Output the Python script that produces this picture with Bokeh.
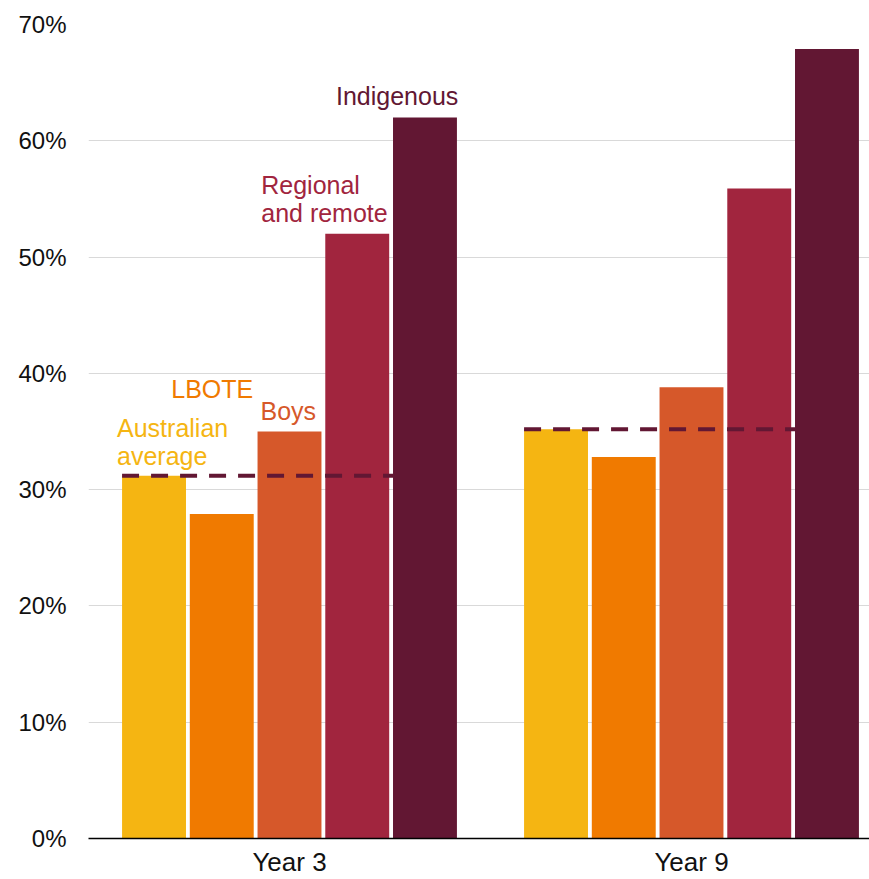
from bokeh.plotting import figure
from bokeh.models import Range1d, FixedTicker, ColumnDataSource, PrintfTickFormatter
from bokeh.core.properties import value
from bokeh.embed import file_html
from bokeh.resources import INLINE

# ---- data ----
years = ["Year 3", "Year 9"]
groups = ["Australian average", "LBOTE", "Boys", "Regional and remote", "Indigenous"]
aus_avg = [31.2, 35.2]
lbote = [27.9, 32.8]
boys = [35.0, 38.8]
regional = [52.0, 55.9]
indigenous = [62.0, 67.9]
colors = ["#F5B512", "#F07A00", "#D6582A", "#A1253E", "#621733"]
y_ticks = [0, 10, 20, 30, 40, 50, 60, 70]
label_texts = ["Australian\naverage", "LBOTE", "Boys", "Regional\nand remote", "Indigenous"]

series = [aus_avg, lbote, boys, regional, indigenous]

FONT = "Liberation Sans"
step = 0.1685
bar_w = 0.159
centers = [0.5, 1.5]

p = figure(width=869, height=879, output_backend="svg", toolbar_location=None,
           x_range=Range1d(0, 781 / 402), y_range=Range1d(0, 70))
p.min_border_left = 88
p.min_border_right = 0
p.min_border_top = 24
p.min_border_bottom = 40
p.outline_line_color = None
p.background_fill_color = "white"
p.border_fill_color = "white"

# bars
for i, (vals, col) in enumerate(zip(series, colors)):
    xs = [c + (i - 2) * step for c in centers]
    src = ColumnDataSource(dict(x=xs, top=vals))
    p.vbar(x="x", top="top", bottom=0, width=bar_w, source=src,
           fill_color=col, line_color=None)

# dashed average lines (from left of first bar to left of last bar)
for c, a in zip(centers, aus_avg):
    x0 = c - 2 * step - bar_w / 2
    x1 = c + 2 * step - bar_w / 2
    p.line([x0, x1], [a, a], line_color="#621733", line_width=4,
           line_dash="17 12")

# labels above Year 3 bars (one text per line, alphabetic baseline)
aligns = ["left", "center", "left", "left", "left"]
x_offs = [-37, -9.5, -29, -96, -89]
last_line_offs = [-20, -125, -21, -21, -21.5]
line_gap = 28
for i in range(5):
    xc = centers[0] + (i - 2) * step
    lines = label_texts[i].split("\n")
    n = len(lines)
    for j, ln in enumerate(lines):
        p.text(x=[xc], y=[series[i][0]], text=[ln],
               text_color=colors[i], text_font=value(FONT), text_font_size="25px",
               text_align=aligns[i], text_baseline="alphabetic",
               x_offset=x_offs[i], y_offset=last_line_offs[i] - (n - 1 - j) * line_gap)

# axes
p.xgrid.grid_line_color = None
p.ygrid.ticker = FixedTicker(ticks=y_ticks)
p.ygrid.grid_line_color = "#d9d9d9"
p.ygrid.grid_line_width = 1.2

p.yaxis.ticker = FixedTicker(ticks=y_ticks)
p.yaxis.formatter = PrintfTickFormatter(format="%d%%")
p.yaxis.axis_line_color = None
p.yaxis.major_tick_line_color = None
p.yaxis.major_tick_out = 0
p.yaxis.minor_tick_line_color = None
p.yaxis.minor_tick_out = 0
p.yaxis.major_label_text_font = FONT
p.yaxis.major_label_text_font_size = "24px"
p.yaxis.major_label_text_color = "#111111"
p.yaxis.major_label_standoff = 22

p.xaxis.ticker = FixedTicker(ticks=centers)
p.xaxis.major_label_overrides = {0.5: years[0], 1.5: years[1]}
p.xaxis.axis_line_color = "black"
p.xaxis.axis_line_width = 1.5
p.xaxis.major_tick_line_color = None
p.xaxis.major_tick_out = 0
p.xaxis.minor_tick_line_color = None
p.xaxis.minor_tick_out = 0
p.xaxis.major_label_text_font = FONT
p.xaxis.major_label_text_font_size = "26px"
p.xaxis.major_label_text_color = "#111111"
p.xaxis.major_label_standoff = 8

open("out.html", "w").write(file_html(p, INLINE))
